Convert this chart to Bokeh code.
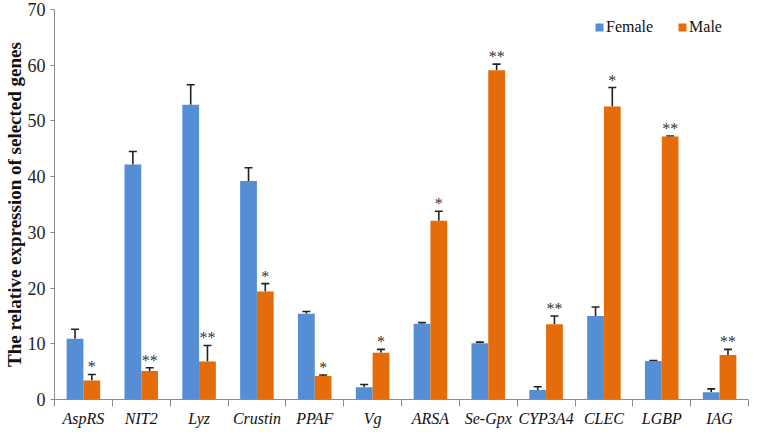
import numpy as np
from bokeh.plotting import figure
from bokeh.models import (ColumnDataSource, FixedTicker, Whisker, TeeHead, Legend,
                          LegendItem, Range1d)
from bokeh.embed import file_html
from bokeh.resources import INLINE
from bokeh.core.properties import value

genes = ["AspRS", "NIT2", "Lyz", "Crustin", "PPAF", "Vg", "ARSA", "Se-Gpx",
         "CYP3A4", "CLEC", "LGBP", "IAG"]
female = [10.9, 42.2, 52.9, 39.2, 15.4, 2.2, 13.6, 10.1, 1.7, 15.0, 6.9, 1.3]
female_err = [1.7, 2.3, 3.6, 2.4, 0.4, 0.5, 0.2, 0.2, 0.6, 1.6, 0.1, 0.6]
male = [3.4, 5.1, 6.8, 19.4, 4.2, 8.4, 32.1, 59.1, 13.5, 52.6, 47.2, 8.0]
male_err = [1.1, 0.6, 2.9, 1.4, 0.2, 0.6, 1.7, 1.1, 1.5, 3.4, 0.1, 1.0]
male_sig = ["*", "**", "**", "*", "*", "*", "*", "**", "**", "*", "**", "**"]
y_ticks = [0, 10, 20, 30, 40, 50, 60, 70]

BLUE = "#558ed5"
ORANGE = "#e46c0a"
SERIF = "Liberation Serif"

n = len(genes)
centers = np.arange(n) + 0.5
bw = 0.29
fx = centers - bw / 2
mx = centers + bw / 2

f_src = ColumnDataSource(dict(x=fx, top=female, upper=np.array(female) + np.array(female_err)))
m_src = ColumnDataSource(dict(x=mx, top=male, upper=np.array(male) + np.array(male_err),
                              sig=male_sig))

p = figure(width=750, height=429, output_backend="svg", toolbar_location=None,
           x_range=Range1d(0, n), y_range=Range1d(0, 70),
           min_border_top=9, min_border_right=2, min_border_left=0, min_border_bottom=0)
p.outline_line_color = None
p.xgrid.grid_line_color = None
p.ygrid.grid_line_color = None

rf = p.vbar(x="x", top="top", width=bw, source=f_src, fill_color=BLUE, line_color=None)
rm = p.vbar(x="x", top="top", width=bw, source=m_src, fill_color=ORANGE, line_color=None)

for src in (f_src, m_src):
    w = Whisker(base="x", upper="upper", lower="top", source=src,
                line_color="#222222", line_width=1.6,
                upper_head=TeeHead(size=8, line_color="#222222", line_width=1.6),
                lower_head=None)
    p.add_layout(w)

p.text(x="x", y="upper", text="sig", source=m_src, text_align="center",
       text_baseline="bottom", y_offset=1, text_font=value(SERIF),
       text_font_size="16px", text_color="#333333")

# x axis
xa = p.xaxis[0]
xa.ticker = FixedTicker(ticks=list(centers), minor_ticks=list(np.arange(n + 1)))
xa.major_label_overrides = {float(c): g for c, g in zip(centers, genes)}
xa.major_tick_line_color = None
xa.major_tick_out = 0
xa.major_tick_in = 0
xa.minor_tick_out = 7
xa.minor_tick_in = 0
xa.minor_tick_line_color = "#8c8c8c"
xa.axis_line_color = "#8c8c8c"
xa.major_label_text_font = SERIF
xa.major_label_text_font_style = "italic"
xa.major_label_text_font_size = "16px"
xa.major_label_text_color = "#111111"
xa.major_label_standoff = 3

# y axis
ya = p.yaxis[0]
ya.ticker = FixedTicker(ticks=y_ticks)
ya.minor_tick_line_color = None
ya.major_tick_out = 4
ya.major_tick_in = 0
ya.major_tick_line_color = "#8c8c8c"
ya.axis_line_color = "#8c8c8c"
ya.major_label_text_font = SERIF
ya.major_label_text_font_size = "18px"
ya.major_label_text_color = "#222222"
ya.major_label_standoff = 5
ya.axis_label = "The relative expression of selected genes"
ya.axis_label_text_font = SERIF
ya.axis_label_text_font_style = "bold"
ya.axis_label_text_font_size = "19px"
ya.axis_label_text_color = "#111111"
ya.axis_label_standoff = 0

legend = Legend(items=[LegendItem(label="Female", renderers=[rf]),
                       LegendItem(label="Male", renderers=[rm])],
                orientation="horizontal", location=(540, 363),
                glyph_width=10, glyph_height=10, label_standoff=2, spacing=24,
                padding=0, margin=0, border_line_color=None,
                background_fill_alpha=0,
                label_text_font=SERIF, label_text_font_size="16px",
                label_text_color="#111111")
p.add_layout(legend)

open("out.html", "w").write(file_html(p, INLINE))
